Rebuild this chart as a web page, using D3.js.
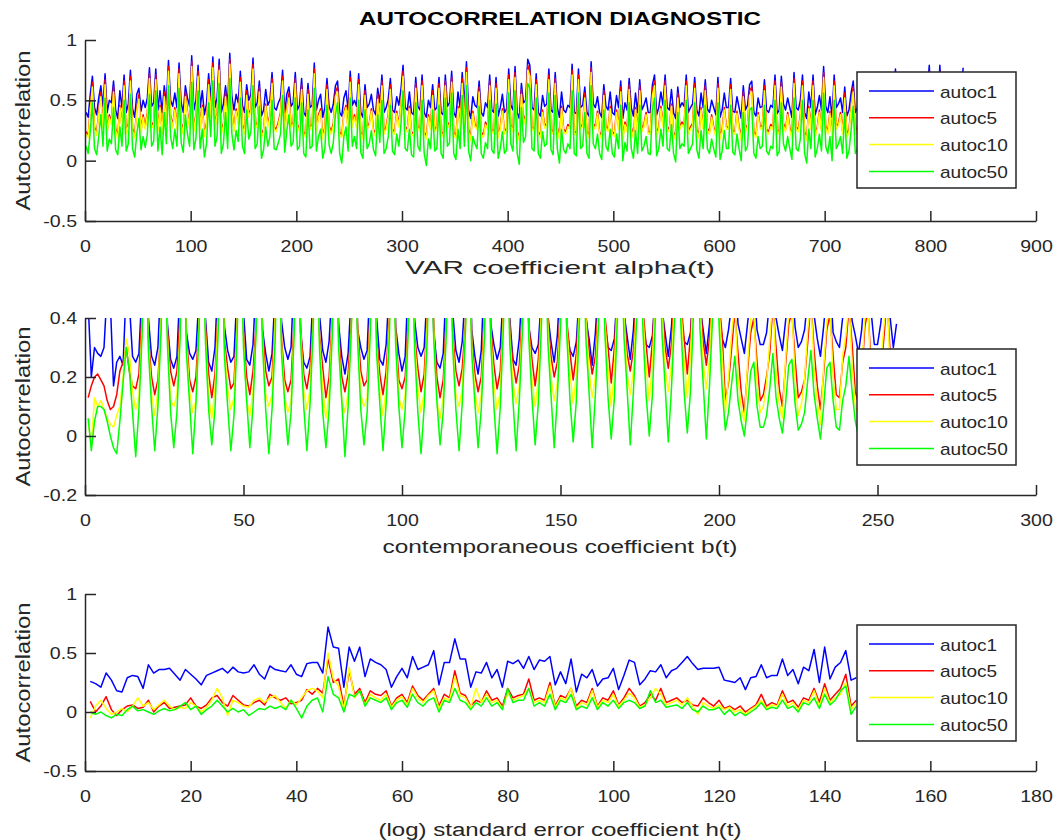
<!DOCTYPE html>
<html>
<head>
<meta charset="utf-8">
<script src="https://cdn.jsdelivr.net/npm/d3@7"></script>
<style>
body{margin:0;background:#fff;}
svg{display:block;}
text{font-family:"Liberation Sans",Arial,sans-serif;fill:#262626;}
</style>
</head>
<body>
<svg id="chart" width="1059" height="840"></svg>
<script>
// ---- data (values in hundredths of autocorrelation) ----
const seriesNames = ['autoc1', 'autoc5', 'autoc10', 'autoc50'];
const seriesColors = ['#0000ff', '#ff0000', '#ffff00', '#00ff00'];

// VAR coefficient alpha(t): read every 2nd coefficient, 1..831
const alphaIdx = d3.range(1, 832, 2);
const alphaAutoc1 = [
  40,36,55,70,44,38,52,62,45,72,40,50,48,66,42, 35,58,44,71,40,47,75,43,36,55,60,41,50,44,52,
  77,45,48,76,42,58,40,62,47,83,50,45,56,44,81, 48,40,62,52,45,87,42,50,79,44,58,38,47,72,50,
  86,44,52,84,40,47,62,45,89,53,42,55,48,74,46, 40,63,50,55,85,44,48,66,37,42,59,46,50,73,44,
  42,48,52,75,40,55,61,45,48,73,42,46,68,40,37, 64,44,46,81,42,50,55,36,44,68,45,40,47,62,66,
  40,37,52,58,42,74,46,50,45,72,40,36,63,44,47, 55,42,38,60,48,71,40,44,51,68,42,40,53,46,59,
  79,44,42,57,40,38,69,45,42,71,40,36,50,44,63, 42,44,69,40,38,71,45,48,74,40,36,57,44,73,45,
  82,42,35,53,46,44,66,40,37,48,44,71,42,40,69, 37,44,55,40,43,76,46,42,78,40,35,64,48,50,84,
  79,44,42,72,40,37,54,45,47,76,42,40,73,44,36, 57,42,40,46,44,80,40,39,76,44,46,61,40,37,82,
  47,44,53,40,36,63,45,42,57,40,38,54,44,66,35, 48,42,68,44,37,56,40,67,42,46,52,40,40,63,71,
  38,44,57,46,71,44,42,59,40,35,61,44,48,45,71, 40,44,47,69,42,37,56,44,67,43,40,50,44,38,69,
  36,42,56,44,44,68,41,40,53,44,35,62,42,46,63, 66,40,37,52,44,45,67,42,40,46,44,71,39,42,70,
  47,42,52,44,36,73,44,42,50,71,40,35,57,44,71, 38,44,54,42,78,45,40,53,36,71,44,47,52,40,61,
  37,42,56,66,40,44,59,43,40,67,42,38,63,44,44, 69,40,42,57,66,44,38,52,76,43,40,61,44,73,42,
  42,69,40,47,44,66,39,42,56,79,40,37,63,44,79, 47,40,61,42,40,67,44,38,56,45,77];
const alphaAutoc5 = [
  24,21,43,65,28,23,40,57,29,67,25,38,32,61,27, 20,46,28,66,24,31,70,27,21,43,55,25,38,28,40,
  72,29,32,71,26,46,24,57,31,78,38,29,44,28,76, 32,24,57,40,29,82,26,38,74,28,46,22,31,67,38,
  81,28,40,79,24,31,57,29,84,41,26,43,32,69,30, 24,58,38,43,80,28,32,61,21,26,47,30,38,68,28,
  26,32,40,70,24,43,56,29,32,68,26,30,63,24,21, 59,28,30,76,26,38,43,20,28,63,29,24,31,57,61,
  24,21,40,46,26,69,30,38,29,67,24,20,58,28,31, 43,26,22,55,32,66,24,28,39,63,26,24,41,30,47,
  74,28,26,45,24,22,64,29,26,66,24,20,38,28,58, 26,28,64,24,22,66,29,32,69,24,20,45,28,68,29,
  77,26,19,41,30,28,61,24,21,32,28,66,26,24,64, 21,28,43,24,27,71,30,26,73,24,19,59,32,38,79,
  74,28,26,67,24,21,42,29,31,71,26,24,68,28,20, 45,26,24,30,28,75,24,23,71,28,30,56,24,21,77,
  31,28,41,24,20,58,29,26,45,24,22,42,28,61,19, 32,26,63,28,21,44,24,62,26,30,40,24,24,58,66,
  22,28,45,30,66,28,26,47,24,19,56,28,32,29,66, 24,28,31,64,26,21,44,28,62,27,24,38,28,22,64,
  20,26,44,28,28,63,25,24,41,28,19,57,26,30,58, 61,24,21,40,28,29,62,26,24,30,28,66,23,26,65,
  31,26,40,28,20,68,28,26,38,66,24,19,45,28,66, 22,28,42,26,73,29,24,41,20,66,28,31,40,24,56,
  21,26,44,61,24,28,47,27,24,62,26,22,58,28,28, 64,24,26,45,61,28,22,40,71,27,24,56,28,68,26,
  26,64,24,31,28,61,23,26,44,74,24,21,58,28,74, 31,24,56,26,24,62,28,22,44,29,72];
const alphaAutoc10 = [
  22,19,41,61,26,21,38,53,27,63,23,36,30,57,25, 18,44,26,62,22,29,66,25,19,41,51,23,36,26,38,
  68,27,30,67,24,44,22,53,29,74,36,27,42,26,72, 30,22,53,38,27,78,24,36,70,26,44,20,29,63,36,
  77,26,38,75,22,29,53,27,80,39,24,41,30,65,28, 22,54,36,41,76,26,30,57,19,24,45,28,36,64,26,
  24,30,38,66,22,41,52,27,30,64,24,28,59,22,19, 55,26,28,72,24,36,41,18,26,59,27,22,29,53,57,
  22,19,38,44,24,65,28,36,27,63,22,18,54,26,29, 41,24,20,51,30,62,22,26,37,59,24,22,39,28,45,
  70,26,24,43,22,20,60,27,24,62,22,18,36,26,54, 24,26,60,22,20,62,27,30,65,22,18,43,26,64,27,
  73,24,17,39,28,26,57,22,19,30,26,62,24,22,60, 19,26,41,22,25,67,28,24,69,22,17,55,30,36,75,
  70,26,24,63,22,19,40,27,29,67,24,22,64,26,18, 43,24,22,28,26,71,22,21,67,26,28,52,22,19,73,
  29,26,39,22,18,54,27,24,43,22,20,40,26,57,17, 30,24,59,26,19,42,22,58,24,28,38,22,22,54,62,
  20,26,43,28,62,26,24,45,22,17,52,26,30,27,62, 22,26,29,60,24,19,42,26,58,25,22,36,26,20,60,
  18,24,42,26,26,59,23,22,39,26,17,53,24,28,54, 57,22,19,38,26,27,58,24,22,28,26,62,21,24,61,
  29,24,38,26,18,64,26,24,36,62,22,17,43,26,62, 20,26,40,24,69,27,22,39,18,62,26,29,38,22,52,
  19,24,42,57,22,26,45,25,22,58,24,20,54,26,26, 60,22,24,43,57,26,20,38,67,25,22,52,26,64,24,
  24,60,22,29,26,57,21,24,42,70,22,19,54,26,70, 29,22,52,24,22,58,26,20,42,27,68];
const alphaAutoc50 = [
  12,6,24,48,10,5,20,38,12,52,8,18,14,44,9, 5,28,12,50,8,14,55,10,3,22,35,9,20,11,22,
  55,12,16,58,8,28,5,40,14,62,20,10,26,12,60, 15,7,38,22,12,65,9,18,58,10,26,3,14,48,20,
  66,12,20,64,6,14,40,10,68,22,9,25,16,52,12, 6,42,18,24,62,10,14,45,2,9,28,12,20,50,10,
  9,15,22,54,7,25,38,12,15,52,9,12,48,6,3, 42,10,12,60,8,20,26,2,10,46,13,6,15,38,48,
  6,-2,20,28,8,52,12,20,10,50,7,2,42,10,14, 25,9,4,38,15,50,6,10,20,46,8,5,22,12,30,
  58,10,8,26,5,3,48,12,8,50,6,-4,18,10,42, 8,10,46,6,2,52,12,15,56,6,1,26,10,54,12,
  62,8,0,20,14,10,45,6,2,15,10,50,9,6,47, 2,10,24,6,9,56,14,8,58,6,-3,44,15,20,64,
  60,10,8,52,6,2,24,12,14,56,9,5,54,10,-2, 26,9,6,14,10,58,6,4,56,10,12,40,6,2,62,
  14,10,22,6,1,42,12,8,26,6,3,22,10,46,0, 15,8,48,10,2,25,6,46,8,12,20,6,5,42,52,
  4,10,26,12,50,10,8,30,6,-1,40,10,14,12,50, 6,10,14,48,9,2,25,10,46,10,6,18,10,3,48,
  1,8,25,10,10,46,7,5,22,10,0,40,8,12,42, 44,6,2,20,10,12,46,8,5,12,10,50,4,8,48,
  14,8,20,10,1,52,10,8,18,50,6,-2,26,10,50, 3,10,22,8,56,12,6,20,0,50,10,14,20,6,40,
  2,8,25,45,6,10,30,9,6,46,8,3,42,10,10, 48,6,8,26,45,10,2,20,56,9,6,40,10,52,8,
  8,48,6,14,10,45,4,8,25,58,6,2,42,10,58, 14,6,40,8,6,46,10,3,25,12,56];

// contemporaneous coefficient b(t): 1..256
const bIdx = d3.range(1, 257);
const bAutoc1 = [45,20,30,28,27,30,50,45,17,25,27,24,50,45,27,
  25,28,50,80,40,27, 24,30,55,85,38,26, 23,27,52,80,35,28, 26,29,48,78,40,25, 22,30,55,82,37,29, 25,27,50,80,42,26,
  24,31,53,84,36,28, 22,28,49,79,39,30, 26,30,56,83,35,25, 23,27,50,80,41,29, 25,32,52,85,38,27, 21,28,48,78,36,30,
  26,29,55,82,40,26, 24,31,51,80,37,28, 22,27,54,84,39,30, 27,30,50,79,35,25, 23,28,53,83,42,29, 25,32,49,80,36,27,
  21,29,56,85,38,31, 26,30,50,78,40,26, 24,33,52,82,37,30, 28,31,48,80,41,32, 25,34,55,84,36,29, 27,32,50,79,40,33,
  24,35,53,83,38,30, 29,33,51,80,42,34, 26,36,56,85,39,31, 30,34,50,78,43,35, 27,37,54,82,40,32, 31,35,52,80,44,36,
  28,38,55,84,41,33,
  30,36,45,55,38,33, 28,38,48,52,36,31, 31,35,46,58,40,34, 29,39,50,54,37,30, 32,36,47,56,41,33, 27,37,49,53,35,32,
  30,40,46,57,39,34, 28,36,50,55,42,31, 31,38,48,60,40,30, 38];
const bAutoc5 = [13,17,20,21,19,17,12,9,10,14,22,25,30,22,17,
  16,21,42,80,33,20, 14,19,38,78,36,22, 17,22,41,82,34,19, 15,20,39,79,37,21, 13,21,43,81,32,23, 16,18,40,80,35,20,
  14,22,38,77,36,22, 17,20,42,83,33,19, 15,19,39,80,38,21, 16,23,41,78,34,23, 13,20,40,82,35,20, 15,21,38,79,37,22,
  17,19,43,81,33,21, 14,22,40,80,36,19, 16,20,39,78,34,23, 15,21,42,82,38,20, 13,19,40,79,35,22, 17,23,38,81,33,21,
  15,20,41,80,37,24, 16,22,43,78,36,25, 18,24,42,82,38,26, 17,26,45,80,40,27, 20,25,44,83,39,28, 19,28,47,79,42,29,
  21,27,46,82,41,30, 18,30,50,80,44,28, 22,29,48,84,43,31, 20,32,52,78,46,30, 23,31,50,82,45,33, 21,34,54,80,47,32,
  24,33,52,83,46,34,
  12,18,30,42,28,15, 8,22,35,40,25,12, 14,20,28,45,30,16, 10,24,38,42,26,13, 15,19,32,46,29,17, 9,21,36,41,27,14,
  13,25,30,44,31,15, 11,20,37,43,24,12, 14,22,33,47,28,16, 20];
const bAutoc10 = [5,-3,13,10,12,9,6,4,3,7,10,20,33,28,15,
  9,13,37,80,32,14, 7,15,40,78,34,12, 10,14,36,82,31,15, 8,12,39,79,35,13, 6,16,41,81,30,16, 9,13,38,80,33,12,
  7,15,36,77,34,14, 10,14,40,83,31,13, 8,12,37,80,36,15, 9,16,39,78,32,16, 6,14,38,82,33,12, 8,15,36,79,35,14,
  10,13,41,81,31,15, 7,16,38,80,34,13, 9,14,37,78,32,16, 8,15,40,82,36,12, 6,13,38,79,33,14, 10,16,36,81,31,15,
  8,14,39,80,35,17, 9,15,41,78,34,18, 11,17,40,82,36,19, 10,19,43,80,38,20, 12,18,42,83,37,21, 11,21,45,79,40,22,
  13,20,44,82,39,23, 10,23,48,80,42,21, 14,22,46,84,41,24, 12,25,50,78,44,23, 15,24,48,82,43,26, 13,27,52,80,45,25,
  16,26,50,83,44,27,
  8,20,35,45,20,10, 5,24,40,42,18,8, 10,18,32,48,22,11, 6,26,42,44,19,7, 11,19,36,47,23,12, 4,23,39,43,20,9,
  9,27,34,46,24,10, 7,21,41,45,17,8, 10,24,37,49,21,11, 15];
const bAutoc50 = [6,-5,5,10,10,9,5,0,-4,-6,5,18,30,22,8,
  -7,9,34,80,29,10, -5,10,36,78,31,8, -4,8,33,82,28,11, -6,11,37,79,32,9, -3,9,35,81,27,10, -5,7,34,80,30,12,
  -4,10,36,77,31,9, -6,9,33,83,28,11, -3,8,35,80,33,10, -5,11,37,78,29,8, -4,9,34,82,30,12, -7,10,36,79,32,9,
  -3,8,35,81,28,11, -5,11,33,80,31,10, -4,9,37,78,29,8, -6,10,34,82,33,12, -3,8,36,79,30,9, -5,11,35,81,28,11,
  -4,9,33,80,32,10, -6,10,37,78,31,12, -5,12,36,82,33,13, -3,11,38,80,32,14, -4,13,37,83,34,12, -2,12,40,79,33,15,
  -4,14,38,82,35,13, -1,13,41,80,34,16, -3,15,39,84,36,14, 0,14,42,78,35,17, -2,16,40,82,37,15, 1,15,43,80,36,18,
  -1,17,41,83,38,16,
  2,8,18,27,12,5, 0,10,22,25,10,3, 3,7,16,28,13,6, 1,11,24,26,11,2, 4,8,19,29,14,6, -1,10,23,25,12,3,
  2,12,17,27,15,5, 0,9,24,26,10,2, 3,11,20,28,13,4, 8];

// (log) standard error coefficient h(t): 1..146
const hIdx = d3.range(1, 147);
const hAutoc1 = [26,24,21,33,27,18,17,29,31,30, 20,40,33,36,36,37,32,27,36,32, 28,23,31,33,35,37,33,38,34,33,
  34,40,32,28,39,36,35,34,40,32, 30,41,42,42,33,72,55,54,21,55, 43,55,30,45,42,40,36,21,30,37,
  29,47,36,38,40,52,23,42,42,62, 45,45,21,34,33,42,29,36,21,43, 41,44,37,47,36,44,43,47,23,34,
  24,45,17,32,29,36,22,28,29,37, 19,31,44,42,23,28,35,34,40,29, 35,37,42,47,41,36,37,37,37,38,
  27,26,25,29,19,29,30,40,29,31, 31,45,31,36,24,38,35,53,25,55, 28,38,42,52,27,29];
const hAutoc5 = [9,0,5,13,2,-3,2,5,6,3, 4,10,0,5,8,3,4,5,6,12, 5,3,6,12,14,8,5,14,10,6,
  5,8,10,6,15,12,10,12,7,8, 10,19,15,20,16,45,25,28,5,35, 15,20,8,18,15,14,18,5,12,15,
  8,22,14,10,15,20,5,15,12,35, 16,14,5,10,8,18,10,12,5,20, 12,14,15,28,10,12,10,25,5,14,
  12,20,5,10,8,20,5,12,10,18, 6,12,20,14,5,8,15,10,20,8, 10,12,8,10,6,5,12,8,5,10,
  3,5,2,5,0,3,6,15,5,8, 6,18,8,10,4,12,10,20,8,24, 10,15,20,32,5,10];
const hAutoc10 = [-5,5,10,3,-2,0,3,0,5,12, 5,8,2,6,10,5,2,4,3,8, 5,0,4,10,20,12,-3,10,8,5,
  4,10,12,8,12,14,8,3,10,6, 12,18,20,18,12,50,28,22,2,38, 12,18,6,15,12,10,15,4,10,13,
  6,20,12,8,14,18,3,12,10,30, 14,12,4,20,8,15,8,10,3,16, 10,12,14,20,8,10,8,22,4,12,
  10,20,3,8,6,18,4,10,8,15, 5,10,16,12,4,6,12,20,15,6, 8,10,6,12,5,-2,8,5,3,6,
  2,4,0,2,-2,2,5,10,3,6, 5,15,5,8,2,10,8,18,5,20, 8,12,15,25,2,8];
const hAutoc50 = [0,-2,0,-3,-5,-2,-3,2,5,1, 2,0,-2,1,3,1,2,5,8,2, 5,-2,2,5,10,5,0,3,0,2,
  -3,0,3,2,5,3,5,2,10,3, -5,5,10,12,0,30,15,12,0,15, 13,18,5,12,10,8,12,2,8,10,
  4,15,8,5,10,12,0,10,8,20, 10,8,2,8,5,12,5,8,2,20, 8,10,10,20,5,8,5,15,2,10,
  8,15,2,5,3,12,2,8,5,10, 3,8,10,8,3,5,18,8,10,4, 5,6,3,8,2,0,5,2,2,4,
  -2,2,-3,0,-3,0,3,8,2,4, 3,10,3,5,0,8,6,12,3,15, 6,10,18,22,-2,5];

const alphaTicksX = d3.range(0, 901, 100);
const bTicksX = d3.range(0, 301, 50);
const hTicksX = d3.range(0, 181, 20);
const ticksYWide = [-0.5, 0, 0.5, 1];
const ticksYNarrow = [-0.2, 0, 0.2, 0.4];

// ---- layout ----
const svg = d3.select('#chart');
const left = 85, right = 1036;
const panels = [
  {top: 40, bottom: 221, xDomain: [0, 900], yDomain: [-0.5, 1], xTicks: alphaTicksX, yTicks: ticksYWide,
   idx: alphaIdx, series: [alphaAutoc1, alphaAutoc5, alphaAutoc10, alphaAutoc50],
   xlabel: 'VAR coefficient alpha(t)', xlabelW: 310, xlabelY: 274, legendTop: 72},
  {top: 318, bottom: 495, xDomain: [0, 300], yDomain: [-0.2, 0.4], xTicks: bTicksX, yTicks: ticksYNarrow,
   idx: bIdx, series: [bAutoc1, bAutoc5, bAutoc10, bAutoc50],
   xlabel: 'contemporaneous coefficient b(t)', xlabelW: 355, xlabelY: 553, legendTop: 349},
  {top: 594, bottom: 771, xDomain: [0, 180], yDomain: [-0.5, 1], xTicks: hTicksX, yTicks: ticksYWide,
   idx: hIdx, series: [hAutoc1, hAutoc5, hAutoc10, hAutoc50],
   xlabel: '(log) standard error coefficient h(t)', xlabelW: 363, xlabelY: 836, legendTop: 625}
];

// widen glyphs a little, the way the original figure was printed
function widen(sel, k) {
  sel.each(function() {
    let w = this.getComputedTextLength();
    d3.select(this).attr('textLength', w * k).attr('lengthAdjust', 'spacingAndGlyphs');
  });
}

svg.append('text').attr('x', 560).attr('y', 25).attr('text-anchor', 'middle')
  .style('font-weight', 'bold').style('font-size', '19px').style('fill', '#000')
  .attr('textLength', 402).attr('lengthAdjust', 'spacingAndGlyphs')
  .text('AUTOCORRELATION DIAGNOSTIC');

panels.forEach((p, pi) => {
  let x = d3.scaleLinear().domain(p.xDomain).range([left, right]);
  let y = d3.scaleLinear().domain(p.yDomain).range([p.bottom, p.top]);
  let g = svg.append('g');

  g.append('clipPath').attr('id', 'clip' + pi).append('rect')
    .attr('x', left).attr('y', p.top).attr('width', right - left).attr('height', p.bottom - p.top);

  let line = d3.line().x((d, i) => x(p.idx[i])).y(d => y(d / 100));
  let lines = g.append('g').attr('clip-path', `url(#clip${pi})`);
  p.series.forEach((s, si) => {
    lines.append('path').datum(s).attr('d', line)
      .attr('fill', 'none').attr('stroke', seriesColors[si]).attr('stroke-width', 1.5)
      .attr('stroke-linejoin', 'round');
  });

  let fmt = d => String(+d.toFixed(1));
  let xa = g.append('g').attr('transform', `translate(0,${p.bottom})`)
    .call(d3.axisBottom(x).tickValues(p.xTicks).tickSizeInner(-10).tickSizeOuter(0).tickPadding(19).tickFormat(fmt));
  let ya = g.append('g').attr('transform', `translate(${left},0)`)
    .call(d3.axisLeft(y).tickValues(p.yTicks).tickSizeInner(-11).tickSizeOuter(0).tickPadding(8).tickFormat(fmt));
  [xa, ya].forEach(a => {
    a.selectAll('path,line').attr('stroke', '#262626').attr('stroke-width', 1.5);
    a.selectAll('text').attr('font-family', null).attr('font-size', null)
      .style('font-size', '17px').style('fill', '#262626');
    widen(a.selectAll('text'), 1.15);
  });

  g.append('text').attr('x', 560).attr('y', p.xlabelY).attr('text-anchor', 'middle')
    .style('font-size', '18px').attr('textLength', p.xlabelW).attr('lengthAdjust', 'spacingAndGlyphs')
    .text(p.xlabel);
  g.append('text').attr('transform', `translate(30,${(p.top + p.bottom) / 2}) rotate(-90)`)
    .attr('text-anchor', 'middle').style('font-size', '21px')
    .attr('textLength', 160).attr('lengthAdjust', 'spacingAndGlyphs').text('Autocorrelation');

  // legend
  let lg = g.append('g').attr('transform', `translate(857,${p.legendTop})`);
  lg.append('rect').attr('width', 159).attr('height', 116)
    .attr('fill', '#fff').attr('stroke', '#262626').attr('stroke-width', 1.5);
  seriesNames.forEach((n, si) => {
    let ry = 19 + si * 26.8;
    lg.append('line').attr('x1', 12).attr('x2', 77).attr('y1', ry).attr('y2', ry)
      .attr('stroke', seriesColors[si]).attr('stroke-width', 1.5);
    lg.append('text').attr('x', 83).attr('y', ry + 6.5).style('font-size', '17px').text(n);
  });
  widen(lg.selectAll('text'), 1.12);
});
</script>
</body>
</html>
